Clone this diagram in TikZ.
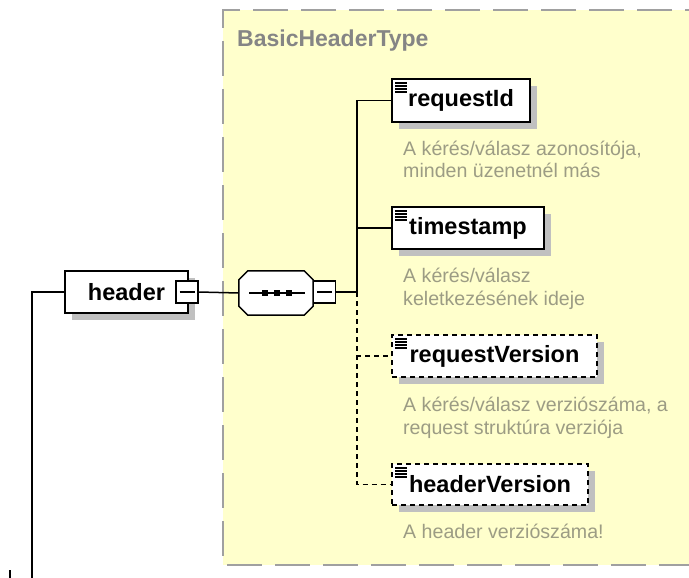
\documentclass[tikz,border=0pt]{standalone}
\usepackage{fontspec}
\setmainfont{Liberation Sans}
\usetikzlibrary{shadows}
\definecolor{bgyellow}{HTML}{FFFFCC}
\definecolor{bordergray}{HTML}{A0A0A0}
\definecolor{shadowgray}{HTML}{C0C0C0}
\definecolor{doccolor}{HTML}{9C9C84}
\definecolor{titlegray}{HTML}{858585}
\begin{document}
\begin{tikzpicture}[x=1pt,y=1pt,
  box/.style={draw=black, line width=2pt, fill=white, inner sep=0pt,
    font=\fontsize{23.5}{28}\selectfont\bfseries,
    general shadow={fill=shadowgray, shadow xshift=7pt, shadow yshift=-7pt}},
  elem/.style={box, path picture={
    \foreach \i in {0,1,2,3}{
      \draw[solid, line width=1.1pt]
        ([shift={(3pt,-4pt-3pt*\i)}]path picture bounding box.north west) -- ++(12pt,0);}}},
  opt/.style={dash pattern=on 5pt off 4pt},
  minusbox/.style={draw=black, line width=1.5pt, fill=white, minimum width=22pt,
    minimum height=22pt, inner sep=0pt,
    path picture={\draw[line width=1.5pt]
      ([xshift=3.5pt]path picture bounding box.west) --
      ([xshift=-3.5pt]path picture bounding box.east);}},
  seqframe/.style={inner sep=0pt, minimum width=74pt, minimum height=44pt},
  conn/.style={line width=1.5pt},
  doc/.style={anchor=base west, inner sep=0pt, text=doccolor,
    font=\fontsize{19.6}{23}\selectfont},
  titlestyle/.style={anchor=base west, inner sep=0pt, text=titlegray,
    font=\fontsize{23}{28}\selectfont\bfseries},
]
\useasboundingbox (0,0) rectangle (689,-578);
\clip (0,0) rectangle (689,-578);

% type container
\fill[bgyellow] (223,-10) rectangle (720,-565);
\draw[bordergray, line width=2pt, dash pattern=on 35pt off 13pt]
  (720,-10) -- (223,-10) -- (223,-565) -- (720,-565);
\node[titlestyle] (ttl) at (237,-47) {BasicHeaderType};

% nodes
\node[box, minimum width=123pt, minimum height=42pt] (header) at (126.5,-292) {header};
\node[minusbox] (hm) at (187,-292) {};

% sequence compositor (octagon)
\node[seqframe] (seq) at (276,-293) {};
\def\octpath{([xshift=9pt]seq.north west) -- ([xshift=-9pt]seq.north east) --
  ([yshift=-9pt]seq.north east) -- ([yshift=9pt]seq.south east) --
  ([xshift=-9pt]seq.south east) -- ([xshift=9pt]seq.south west) --
  ([yshift=9pt]seq.south west) -- ([yshift=-9pt]seq.north west) -- cycle}
\begin{scope}[shift={(7pt,-7pt)}]
  \fill[shadowgray] \octpath;
\end{scope}
\draw[line width=1.5pt, fill=white] \octpath;
\coordinate (sl) at (249,-293);
\coordinate (sr) at (305,-293);
\draw[line width=1.5pt] (sl) -- (sr);
\foreach \dx in {-11,1,13}
  \fill ([xshift=\dx pt]seq.center) ++(-3pt,-3pt) rectangle ++(6pt,6pt);
\node[minusbox] (sm) at (324.5,-292) {};

\node[elem, minimum width=138pt, minimum height=43pt] (req) at (461,-100.5) {requestId};
\node[elem, minimum width=152pt, minimum height=42pt] (ts) at (468,-228) {timestamp};
\node[elem, opt, minimum width=205pt, minimum height=42pt] (rv) at (494.5,-356) {requestVersion};
\node[elem, opt, minimum width=196pt, minimum height=41pt] (hv) at (490,-484.5) {headerVersion};

% connectors
\coordinate (lb) at (32,-580);
\draw[conn] (lb) |- (header.west);
\draw[conn] (hm.east) -- (seq.west);
\coordinate (jn) at (357,-292);
\draw[conn] (sm.east) -- (jn);
\draw[conn] (jn) |- (req.west);
\draw[conn] (jn) |- (ts.west);
\draw[conn, opt] (jn) |- (rv.west);
\draw[conn, opt] (jn) |- (hv.west);

\coordinate (t1) at (10,-570);
\coordinate (t2) at (10,-580);
\draw[conn] (t1) -- (t2);

% documentation
\node[doc] (d1a) at (403,-155) {A kérés/válasz azonosítója,};
\node[doc] (d1b) at (403,-178) {minden üzenetnél más};
\node[doc] (d2a) at (403,-282) {A kérés/válasz};
\node[doc] (d2b) at (403,-305) {keletkezésének ideje};
\node[doc] (d3a) at (403,-411) {A kérés/válasz verziószáma, a};
\node[doc] (d3b) at (403,-434) {request struktúra verziója};
\node[doc] (d4a) at (403,-538) {A header verziószáma!};
\end{tikzpicture}
\end{document}
